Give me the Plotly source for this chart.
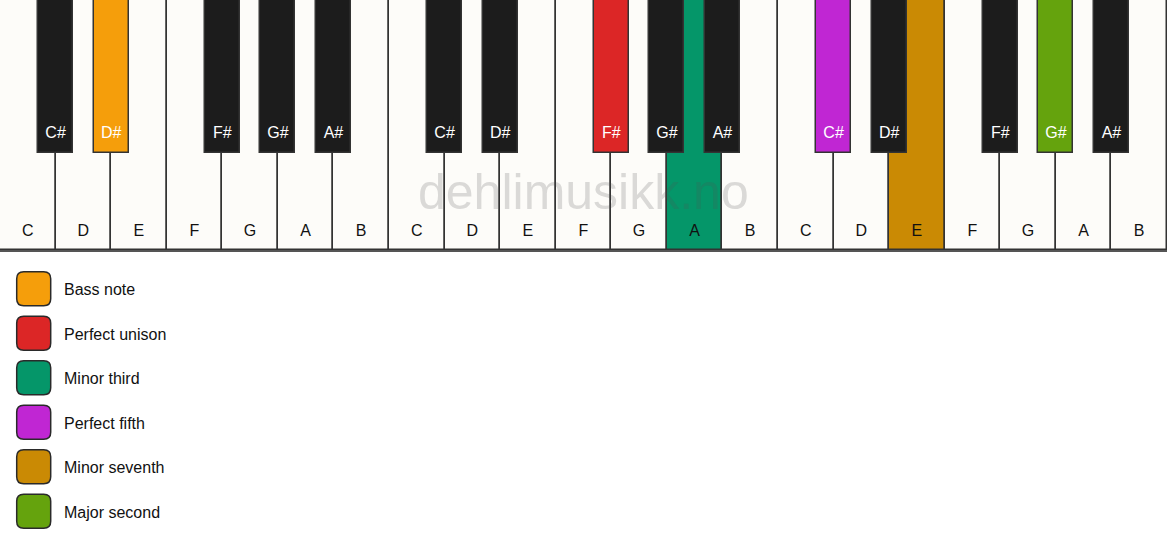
import plotly.graph_objects as go

# Keyboard data: three octaves of white and black keys
octaves = 3
white_notes = ["C", "D", "E", "F", "G", "A", "B"]
black_notes = ["C#", "D#", "F#", "G#", "A#"]
black_after_white = [0, 1, 3, 4, 5]  # black key sits after this white key index in the octave

# Highlighted keys (note + octave number) and legend
highlight_keys = ["D#1", "F#2", "A2", "C#3", "E3", "G#3"]
legend_labels = ["Bass note", "Perfect unison", "Minor third", "Perfect fifth", "Minor seventh", "Major second"]
legend_colors = ["#F59E0B", "#DC2626", "#059669", "#C026D3", "#CA8A04", "#65A30D"]

WHITE = "#FDFCF9"
BLACK = "#1C1C1C"
OUTLINE = "#333333"
W, H = 1167, 550
KEY_PX = 250          # keyboard height in pixels
BLACK_LEN = 153 / KEY_PX
BLACK_W = 35 / (W / (7 * octaves))

color_of = dict(zip(highlight_keys, legend_colors))

# White keys
wx, wc, wl = [], [], []
for o in range(octaves):
    for i, n in enumerate(white_notes):
        wx.append(o * 7 + i + 0.5)
        wc.append(color_of.get(f"{n}{o + 1}", WHITE))
        wl.append(n)

# Black keys
bx, bc, bl = [], [], []
for o in range(octaves):
    for n, a in zip(black_notes, black_after_white):
        bx.append(o * 7 + a + 1)
        bc.append(color_of.get(f"{n}{o + 1}", BLACK))
        bl.append(n)

fig = go.Figure()

fig.add_trace(go.Bar(
    x=wx, y=[1] * len(wx), base=0, width=1,
    marker=dict(color=wc, line=dict(color=OUTLINE, width=1.5)),
    hoverinfo="skip", showlegend=False, cliponaxis=False
))
fig.add_trace(go.Scatter(
    x=wx, y=[18 / KEY_PX] * len(wx), mode="text", text=wl,
    textfont=dict(family="Liberation Sans, Arial", size=16, color="#111111"),
    hoverinfo="skip", showlegend=False
))
fig.add_trace(go.Bar(
    x=bx, y=[BLACK_LEN] * len(bx), base=1 - BLACK_LEN, width=BLACK_W,
    marker=dict(color=bc, line=dict(color=OUTLINE, width=1.5)),
    hoverinfo="skip", showlegend=False, cliponaxis=False
))
fig.add_trace(go.Scatter(
    x=bx, y=[(KEY_PX - 134) / KEY_PX] * len(bx), mode="text", text=bl,
    textfont=dict(family="Liberation Sans, Arial", size=16, color="white"),
    hoverinfo="skip", showlegend=False
))

# Legend drawn below the keyboard: rounded swatches + labels
shapes = []
annotations = []
first_cy, step, size, r = 288.7, 44.5, 34, 7
x0, x1 = 16.7, 16.7 + size
for i, (lab, col) in enumerate(zip(legend_labels, legend_colors)):
    cy = first_cy + i * step
    y0, y1 = cy - size / 2, cy + size / 2
    px = lambda v: v / W
    py = lambda v: 1 - v / H
    path = (
        f"M {px(x0 + r)},{py(y0)} L {px(x1 - r)},{py(y0)} "
        f"Q {px(x1)},{py(y0)} {px(x1)},{py(y0 + r)} L {px(x1)},{py(y1 - r)} "
        f"Q {px(x1)},{py(y1)} {px(x1 - r)},{py(y1)} L {px(x0 + r)},{py(y1)} "
        f"Q {px(x0)},{py(y1)} {px(x0)},{py(y1 - r)} L {px(x0)},{py(y0 + r)} "
        f"Q {px(x0)},{py(y0)} {px(x0 + r)},{py(y0)} Z"
    )
    shapes.append(dict(type="path", xref="paper", yref="paper", path=path,
                       fillcolor=col, line=dict(color="#2a2a2a", width=1.5)))
    annotations.append(dict(xref="paper", yref="paper", x=62 / W, y=1 - (cy + 1) / H,
                            text=lab, showarrow=False, xanchor="left", yanchor="middle",
                            font=dict(family="Liberation Sans, Arial", size=16, color="#111111")))

# Watermark
annotations.append(dict(xref="paper", yref="paper", x=583 / W, y=1 - 192 / H,
                        text="dehlimusikk.no", showarrow=False, xanchor="center", yanchor="middle",
                        font=dict(family="Liberation Sans, Arial", size=50, color="rgba(80,80,80,0.2)")))

fig.update_layout(
    width=W, height=H, autosize=False,
    margin=dict(l=0, r=0, t=0, b=0),
    paper_bgcolor="white", plot_bgcolor="white",
    barmode="overlay", bargap=0,
    shapes=shapes, annotations=annotations,
    xaxis=dict(range=[0, 7 * octaves], domain=[0, 1], showgrid=False, zeroline=False,
               showticklabels=False, ticks="", showline=True, linecolor="#555555", linewidth=2,
               fixedrange=True),
    yaxis=dict(range=[0, 1], domain=[1 - KEY_PX / H, 1], showgrid=False, zeroline=False,
               showticklabels=False, ticks="", fixedrange=True),
)

fig.write_html("out.html", config={"displayModeBar": False},
               post_script="document.body.style.margin='0';document.body.style.overflow='hidden';")
